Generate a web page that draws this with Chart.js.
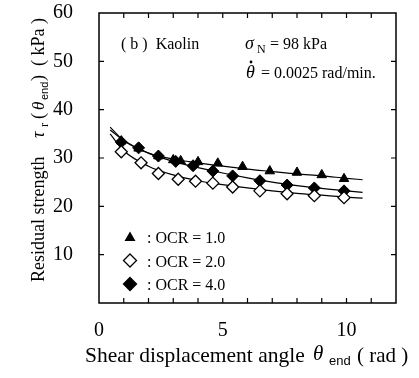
<!DOCTYPE html>
<html>
<head>
<meta charset="utf-8">
<script src="https://cdn.jsdelivr.net/npm/chart.js@4.4.0/dist/chart.umd.min.js"></script>
<style>
  html, body { margin: 0; padding: 0; background: #fff; }
  #wrap { width: 419px; height: 378px; }
</style>
</head>
<body>
<div id="wrap"><canvas id="shearChart" width="419" height="378"></canvas></div>
<script>
// measured points
const ocr1X = [0.9, 1.6, 2.4, 3.0, 3.3, 4.0, 4.8, 5.8, 6.9, 8.0, 9.0, 9.9];
const ocr1Y = [33.5, 32.0, 30.4, 29.6, 29.4, 29.2, 28.9, 28.2, 27.3, 27.0, 26.5, 25.7];
const ocr2X = [0.9, 1.7, 2.4, 3.2, 3.9, 4.6, 5.4, 6.5, 7.6, 8.7, 9.9];
const ocr2Y = [31.3, 29.0, 26.8, 25.6, 25.2, 24.8, 24.0, 23.2, 22.6, 22.2, 21.8];
const ocr4X = [0.9, 1.6, 2.4, 3.1, 3.8, 4.6, 5.4, 6.5, 7.6, 8.7, 9.9];
const ocr4Y = [33.3, 32.1, 30.4, 29.3, 28.4, 27.3, 26.3, 25.3, 24.4, 23.8, 23.2];

// fitted curves
const curveX = [0.45, 1, 2, 3, 4, 5, 6, 7, 8, 9, 10, 10.65];
const curve1 = [35.8, 33.6, 31.0, 29.8, 29.0, 28.3, 27.7, 27.2, 26.7, 26.3, 25.8, 25.5];
const curve2 = [35.0, 31.5, 28.3, 26.5, 25.3, 24.5, 23.8, 23.2, 22.7, 22.3, 21.9, 21.7];
const curve4 = [36.4, 33.6, 31.0, 29.3, 28.0, 26.9, 25.9, 25.0, 24.3, 23.7, 23.2, 22.9];

const xTicks = [0, 5, 10];
const yTicks = [10, 20, 30, 40, 50, 60];
const legendLabels = [': OCR = 1.0', ': OCR = 2.0', ': OCR = 4.0'];

const serif = '"Liberation Serif", "Times New Roman", serif';

function pts(xs, ys) {
  return xs.map((x, i) => ({ x: x, y: ys[i] }));
}

function curveSet(ys) {
  return {
    type: 'line',
    data: pts(curveX, ys),
    borderColor: '#000',
    borderWidth: 1.2,
    pointRadius: 0,
    tension: 0.4,
    cubicInterpolationMode: 'monotone',
    fill: false
  };
}

function drawMarker(ctx, style, x, y) {
  ctx.save();
  ctx.lineWidth = 1.3;
  ctx.strokeStyle = '#000';
  ctx.beginPath();
  if (style === 'tri') {
    ctx.moveTo(x, y - 5.5);
    ctx.lineTo(x + 5.5, y + 4);
    ctx.lineTo(x - 5.5, y + 4);
    ctx.closePath();
    ctx.fillStyle = '#000';
    ctx.fill();
  } else {
    ctx.moveTo(x, y - 6.5);
    ctx.lineTo(x + 6.5, y);
    ctx.lineTo(x, y + 6.5);
    ctx.lineTo(x - 6.5, y);
    ctx.closePath();
    ctx.fillStyle = style === 'open' ? '#fff' : '#000';
    ctx.fill();
    ctx.stroke();
  }
  ctx.restore();
}

const decor = {
  id: 'decor',
  afterDraw(chart) {
    const ctx = chart.ctx;
    const a = chart.chartArea;
    const xs = chart.scales.x, ys = chart.scales.y;
    ctx.save();
    ctx.strokeStyle = '#000';
    ctx.lineWidth = 1.5;
    ctx.strokeRect(a.left, a.top, a.right - a.left, a.bottom - a.top);

    // inward ticks
    ctx.lineWidth = 1.2;
    ctx.beginPath();
    for (let v = 1; v < 12; v++) {
      const px = xs.getPixelForValue(v);
      ctx.moveTo(px, a.bottom); ctx.lineTo(px, a.bottom - 5);
      ctx.moveTo(px, a.top); ctx.lineTo(px, a.top + 5);
    }
    for (let v = 10; v < 60; v += 10) {
      const py = ys.getPixelForValue(v);
      ctx.moveTo(a.left, py); ctx.lineTo(a.left + 5, py);
      ctx.moveTo(a.right, py); ctx.lineTo(a.right - 5, py);
    }
    ctx.stroke();

    ctx.fillStyle = '#000';
    ctx.textBaseline = 'alphabetic';
    ctx.textAlign = 'left';

    // annotation text
    ctx.font = '16px ' + serif;
    ctx.fillText('( b )  Kaolin', 121, 49);
    ctx.font = 'italic 18px ' + serif;
    ctx.fillText('σ', 245, 49);
    ctx.font = '12px ' + serif;
    ctx.fillText('N', 257, 53);
    ctx.font = '16px ' + serif;
    ctx.fillText('= 98 kPa', 270, 49);
    ctx.font = 'italic 18px ' + serif;
    ctx.fillText('θ', 246, 78);
    ctx.beginPath();
    ctx.arc(251, 62, 1.4, 0, Math.PI * 2);
    ctx.fill();
    ctx.font = '16px ' + serif;
    ctx.fillText('= 0.0025 rad/min.', 261, 78);

    // legend
    const styles = ['tri', 'open', 'fill'];
    legendLabels.forEach((t, i) => {
      const y = 237 + i * 23.5;
      drawMarker(ctx, styles[i], 130, y);
      ctx.fillStyle = '#000';
      ctx.font = '16px ' + serif;
      ctx.fillText(t, 147, y + 6);
    });

    // x title
    ctx.font = '21.5px ' + serif;
    ctx.fillText('Shear displacement angle', 85, 362);
    ctx.font = 'italic 21px ' + serif;
    ctx.fillText('θ', 313, 360);
    ctx.font = '13px Arial, "Liberation Sans", sans-serif';
    ctx.fillText('end', 329, 365);
    ctx.font = '21px ' + serif;
    ctx.fillText('( rad )', 357, 362);

    // y title (rotated)
    ctx.translate(44, 282);
    ctx.rotate(-Math.PI / 2);
    ctx.font = '18px ' + serif;
    ctx.fillText('Residual strength', 0, 0);
    ctx.font = 'italic 18px ' + serif;
    ctx.fillText('τ', 144, 0);
    ctx.font = '12px ' + serif;
    ctx.fillText('r', 155, 4);
    ctx.font = '18px ' + serif;
    ctx.fillText('(', 163, 0);
    ctx.font = 'italic 17px ' + serif;
    ctx.fillText('θ', 172, 0);
    ctx.font = '11px Arial, "Liberation Sans", sans-serif';
    ctx.fillText('end', 182, 4);
    ctx.font = '18px ' + serif;
    ctx.fillText(')  ( kPa )', 201, 0);
    ctx.restore();
  }
};

const ctx = document.getElementById('shearChart').getContext('2d');
const shearChart = new Chart(ctx, {
  type: 'scatter',
  data: {
    datasets: [
      {
        data: pts(ocr1X, ocr1Y),
        pointStyle: 'triangle',
        pointRadius: 5.5,
        backgroundColor: '#000',
        borderColor: '#000',
        borderWidth: 1
      },
      {
        data: pts(ocr2X, ocr2Y),
        pointStyle: 'rectRot',
        pointRadius: 6,
        backgroundColor: '#fff',
        borderColor: '#000',
        borderWidth: 1.3
      },
      {
        data: pts(ocr4X, ocr4Y),
        pointStyle: 'rectRot',
        pointRadius: 6,
        backgroundColor: '#000',
        borderColor: '#000',
        borderWidth: 1
      },
      curveSet(curve1),
      curveSet(curve2),
      curveSet(curve4)
    ]
  },
  options: {
    responsive: false,
    animation: false,
    layout: { padding: { left: 0, right: 23, top: 13, bottom: 0 } },
    plugins: { legend: { display: false }, tooltip: { enabled: false } },
    scales: {
      x: {
        type: 'linear',
        min: 0,
        max: 12,
        afterBuildTicks: s => { s.ticks = xTicks.map(v => ({ value: v })); },
        afterFit: s => { s.height = 75; s.paddingLeft = 0; s.paddingRight = 0; },
        grid: { display: false },
        border: { display: false },
        ticks: {
          color: '#000',
          padding: 8,
          maxRotation: 0,
          font: { family: serif, size: 20 }
        }
      },
      y: {
        min: 0,
        max: 60,
        afterBuildTicks: s => { s.ticks = yTicks.map(v => ({ value: v })); },
        afterFit: s => { s.width = 99; s.paddingTop = 0; s.paddingBottom = 0; },
        grid: { display: false },
        border: { display: false },
        ticks: {
          color: '#000',
          padding: 18,
          font: { family: serif, size: 20 }
        }
      }
    }
  },
  plugins: [decor]
});
</script>
</body>
</html>
